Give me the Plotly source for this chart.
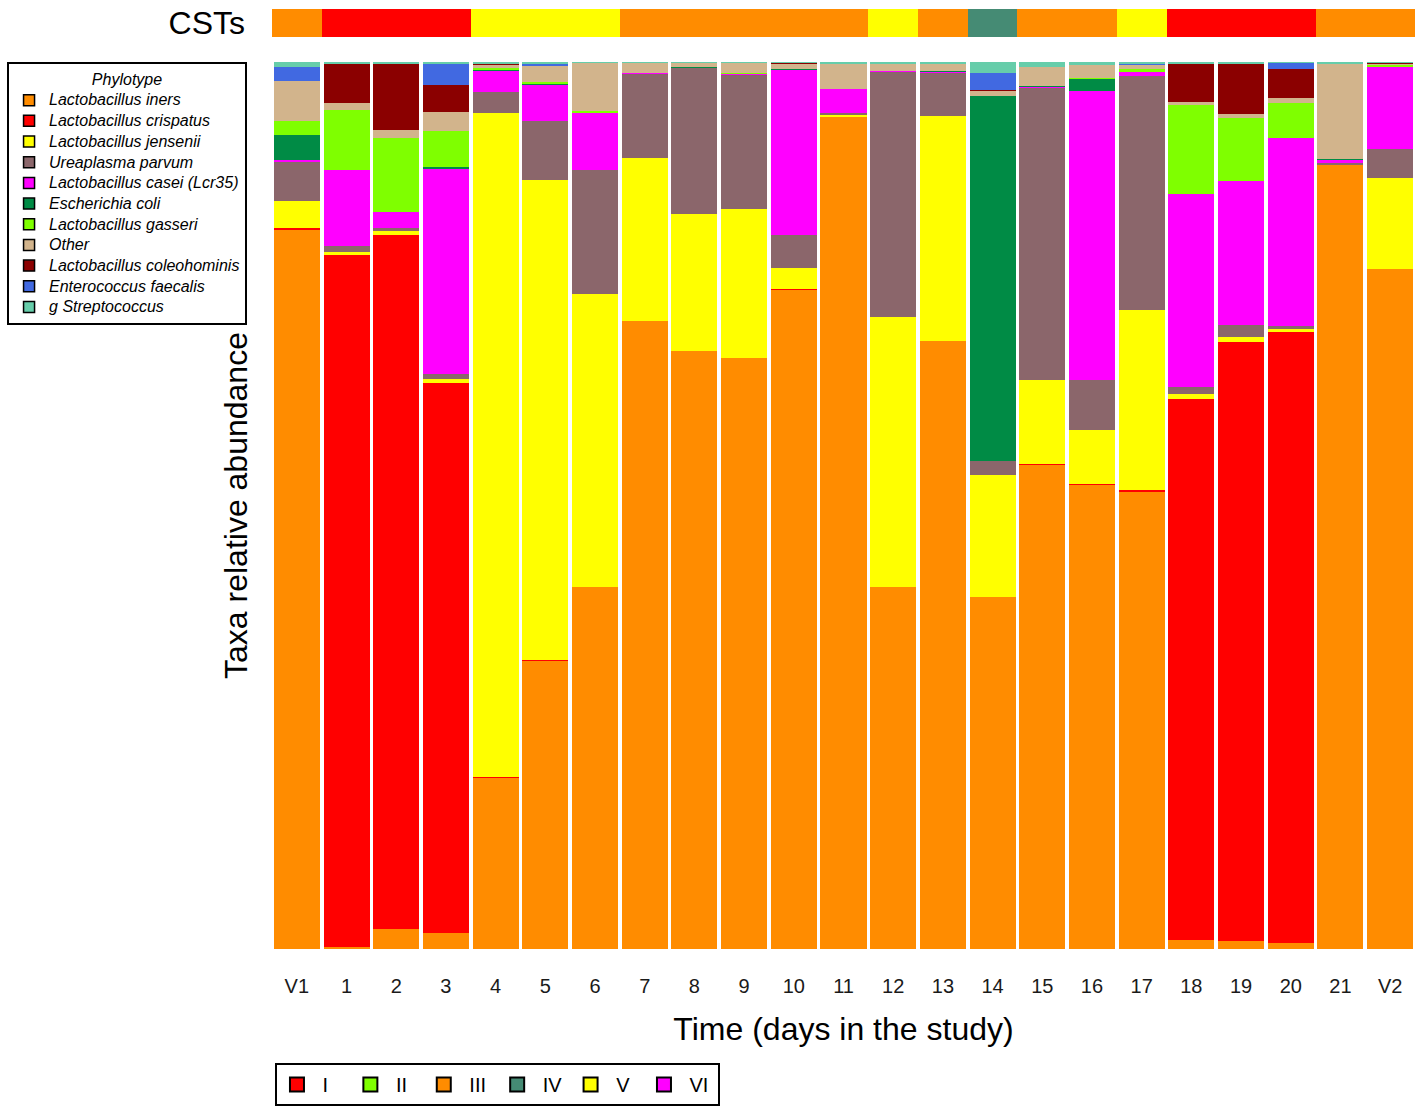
import plotly.graph_objects as go

# Sampling days
days = ["V1", "1", "2", "3", "4", "5", "6", "7", "8", "9", "10", "11",
        "12", "13", "14", "15", "16", "17", "18", "19", "20", "21", "V2"]

# Community state type assigned to each sample
cst = ["III", "I", "I", "I", "V", "V", "V", "III", "III", "III", "III", "III",
       "V", "III", "IV", "III", "III", "V", "I", "I", "I", "III", "III"]

# Relative abundance (%) of each phylotype per sample (stacked bottom -> top)
l_iners = [81.06, 0.23, 2.25, 1.80, 19.28, 32.47, 40.81, 70.80, 67.42, 66.63, 74.30, 93.91,
           40.81, 68.55, 39.68, 54.57, 52.31, 51.63, 1.01, 0.90, 0.68, 88.39, 76.66]
l_crispatus = [0.23, 78.01, 78.24, 62.01, 0.11, 0.11, 0, 0, 0, 0, 0.11, 0,
               0, 0, 0, 0.11, 0.11, 0.11, 60.99, 67.53, 68.88, 0, 0]
l_jensenii = [3.04, 0.34, 0.45, 0.45, 74.86, 54.11, 33.03, 18.38, 15.45, 16.80, 2.37, 0.15,
              30.44, 25.37, 13.75, 9.47, 6.09, 20.29, 0.56, 0.56, 0.34, 0, 10.26]
u_parvum = [4.36, 0.71, 0.37, 0.56, 2.33, 6.69, 13.98, 9.47, 16.46, 15.18, 3.72, 0.23,
            27.66, 4.93, 1.58, 32.92, 5.64, 26.42, 0.79, 1.35, 0.37, 0.23, 3.27]
l_casei = [0.26, 8.53, 1.77, 23.14, 2.51, 4.06, 6.54, 0.15, 0, 0.11, 18.60, 2.67,
           0.11, 0.08, 0, 0.15, 32.55, 0.45, 21.76, 16.23, 21.16, 0.34, 9.24]
e_coli = [2.82, 0, 0, 0.19, 0.08, 0.11, 0, 0, 0.11, 0, 0.15, 0,
          0, 0.11, 41.15, 0.08, 1.43, 0, 0, 0, 0, 0.11, 0]
l_gasseri = [1.61, 6.76, 8.34, 4.06, 0.11, 0.15, 0.11, 0, 0, 0.08, 0, 0,
             0, 0, 0, 0, 0.11, 0.34, 10.07, 7.10, 3.95, 0, 0.30]
other = [4.48, 0.79, 0.90, 2.14, 0.48, 1.95, 5.45, 1.13, 0.48, 1.13, 0.53, 2.82,
         0.75, 0.75, 0.60, 2.14, 1.47, 0.45, 0.30, 0.45, 0.56, 10.71, 0.15]
l_coleohominis = [0, 4.51, 7.55, 3.04, 0.11, 0, 0, 0, 0, 0, 0.11, 0,
                  0, 0, 0.11, 0, 0, 0, 4.40, 5.75, 3.27, 0, 0.05]
e_faecalis = [1.58, 0, 0, 2.48, 0, 0.11, 0, 0, 0, 0, 0, 0,
              0, 0, 1.88, 0, 0, 0.11, 0, 0, 0.68, 0, 0]
g_streptococcus = [0.60, 0.15, 0.15, 0.15, 0.10, 0.26, 0.10, 0.10, 0.10, 0.10, 0.15, 0.26,
                   0.26, 0.26, 1.27, 0.60, 0.26, 0.20, 0.15, 0.15, 0.15, 0.26, 0.10]

phylotypes = [
    ("Lactobacillus iners", l_iners, "#FF8C00"),
    ("Lactobacillus crispatus", l_crispatus, "#FF0000"),
    ("Lactobacillus jensenii", l_jensenii, "#FFFF00"),
    ("Ureaplasma parvum", u_parvum, "#8B666B"),
    ("Lactobacillus casei (Lcr35)", l_casei, "#FF00FF"),
    ("Escherichia coli", e_coli, "#008B45"),
    ("Lactobacillus gasseri", l_gasseri, "#7FFF00"),
    ("Other", other, "#D2B48C"),
    ("Lactobacillus coleohominis", l_coleohominis, "#8B0000"),
    ("Enterococcus faecalis", e_faecalis, "#4169E1"),
    ("g Streptococcus", g_streptococcus, "#66CDAA"),
]

cst_levels = ["I", "II", "III", "IV", "V", "VI"]
cst_colors = {"I": "#FF0000", "II": "#7FFF00", "III": "#FF8C00",
              "IV": "#458B74", "V": "#FFFF00", "VI": "#FF00FF"}

FONT = "Liberation Sans, Arial, Helvetica, sans-serif"

fig = go.Figure()

# Stacked abundance bars
for name, vals, col in phylotypes:
    fig.add_trace(go.Bar(
        x=days, y=vals, name=name, marker=dict(color=col, line=dict(width=0)),
        showlegend=False, hoverinfo="x+y+name",
    ))

# Legend keys for phylotypes (outlined squares)
for name, vals, col in phylotypes:
    fig.add_trace(go.Scatter(
        x=[None], y=[None], mode="markers",
        name=f'<span style="font-size:16px">{name}</span>',
        marker=dict(symbol="square", size=11, color=col, line=dict(color="black", width=1.5)),
        legend="legend", showlegend=True, hoverinfo="skip",
    ))

# CST strip above the bars
for lvl in cst_levels:
    xs = [d for d, c in zip(days, cst) if c == lvl]
    fig.add_trace(go.Bar(
        x=xs, y=[1] * len(xs), width=1, yaxis="y2", xaxis="x",
        marker=dict(color=cst_colors[lvl], line=dict(width=0)),
        showlegend=False, name=lvl,
    ))

# Legend keys for CSTs
for lvl in cst_levels:
    fig.add_trace(go.Scatter(
        x=[None], y=[None], mode="markers",
        name=f'\u00a0{lvl}', yaxis="y2",
        marker=dict(symbol="square", size=14, color=cst_colors[lvl], line=dict(color="black", width=2)),
        legend="legend2", showlegend=True, hoverinfo="skip",
    ))

fig.update_layout(
    width=1417, height=1112,
    margin=dict(l=272, r=2, t=9, b=163),
    paper_bgcolor="white", plot_bgcolor="white",
    barmode="stack", bargap=0.074, showlegend=True,
    font=dict(family=FONT, color="black"),
    xaxis=dict(
        type="category", categoryorder="array", categoryarray=days,
        range=[-0.5, 22.5], showgrid=False, zeroline=False, showline=False,
        ticks="", tickfont=dict(size=20, color="#1a1a1a"), ticklabelstandoff=23,
        title=dict(text="Time (days in the study)", font=dict(size=32), standoff=21),
    ),
    yaxis=dict(
        domain=[0, 0.9436], range=[0, 100], showgrid=False, zeroline=False,
        showline=False, showticklabels=False, ticks="",
        title=dict(text="Taxa relative abundance", font=dict(size=32), standoff=13),
    ),
    yaxis2=dict(
        domain=[0.9702, 1.0], range=[0, 1], anchor="x", showgrid=False,
        zeroline=False, showline=False, ticks="",
        tickvals=[0.5], ticktext=["CSTs"], tickfont=dict(size=32, color="black"),
        ticklabelstandoff=26,
    ),
    legend=dict(
        x=-0.2318, xanchor="left", y=0.9436, yanchor="top", traceorder="normal",
        bordercolor="black", borderwidth=2, bgcolor="white",
        font=dict(size=13.6, style="italic", family=FONT),
        title=dict(text="Phylotype", side="top center",
                   font=dict(size=16, style="italic", family=FONT)),
        itemclick=False, itemdoubleclick=False,
    ),
    legend2=dict(
        orientation="h", x=0.0026, xanchor="left", y=-0.1213, yanchor="top",
        traceorder="normal",
        bordercolor="black", borderwidth=2, bgcolor="white",
        font=dict(size=20, family=FONT), entrywidth=28.4, entrywidthmode="pixels",
        itemclick=False, itemdoubleclick=False,
    ),
)

fig.write_html("out.html")
